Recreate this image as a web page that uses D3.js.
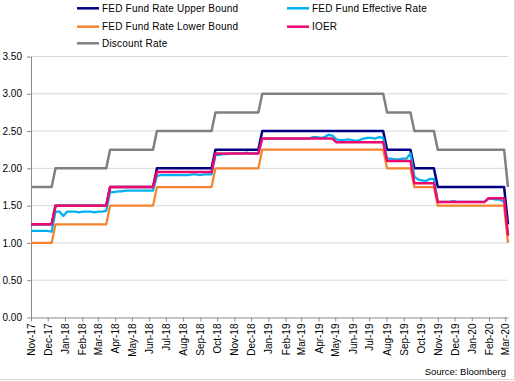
<!DOCTYPE html>
<html>
<head>
<meta charset="utf-8">
<script src="https://cdn.jsdelivr.net/npm/d3@7"></script>
<style>
  html, body { margin: 0; padding: 0; background: #fff; }
  svg { display: block; font-family: "Liberation Sans", Arial, sans-serif; }
</style>
</head>
<body>
<svg id="chart" width="515" height="381"></svg>
<script>
// ---------- data ----------
const yTicks = [0, 0.5, 1.0, 1.5, 2.0, 2.5, 3.0, 3.5];
const xStart = "2017-11-01";
const xEnd = "2020-03-06";
const sourceText = "Source: Bloomberg";

const upperBound = [
  ["2017-11-01",1.25],["2017-12-08",1.25],["2017-12-15",1.50],["2018-03-16",1.50],["2018-03-23",1.75],
  ["2018-06-08",1.75],["2018-06-15",2.00],["2018-09-21",2.00],["2018-09-28",2.25],["2018-12-14",2.25],
  ["2018-12-21",2.50],["2019-07-26",2.50],["2019-08-02",2.25],["2019-09-13",2.25],["2019-09-20",2.00],
  ["2019-10-25",2.00],["2019-11-01",1.75],["2020-02-28",1.75],["2020-03-06",1.25]
];
const lowerBound = [
  ["2017-11-01",1.00],["2017-12-08",1.00],["2017-12-15",1.25],["2018-03-16",1.25],["2018-03-23",1.50],
  ["2018-06-08",1.50],["2018-06-15",1.75],["2018-09-21",1.75],["2018-09-28",2.00],["2018-12-14",2.00],
  ["2018-12-21",2.25],["2019-07-26",2.25],["2019-08-02",2.00],["2019-09-13",2.00],["2019-09-20",1.75],
  ["2019-10-25",1.75],["2019-11-01",1.50],["2020-02-28",1.50],["2020-03-06",1.00]
];
const ioer = [
  ["2017-11-01",1.25],["2017-12-08",1.25],["2017-12-15",1.50],["2018-03-16",1.50],["2018-03-23",1.75],
  ["2018-06-08",1.75],["2018-06-15",1.95],["2018-09-21",1.95],["2018-09-28",2.20],["2018-12-14",2.20],
  ["2018-12-21",2.40],["2019-04-26",2.40],["2019-05-03",2.35],["2019-07-26",2.35],["2019-08-02",2.10],
  ["2019-09-13",2.10],["2019-09-20",1.80],["2019-10-25",1.80],["2019-11-01",1.55],["2020-01-24",1.55],
  ["2020-01-31",1.60],["2020-02-28",1.60],["2020-03-06",1.10]
];
const discountRate = [
  ["2017-11-01",1.75],["2017-12-08",1.75],["2017-12-15",2.00],["2018-03-16",2.00],["2018-03-23",2.25],
  ["2018-06-08",2.25],["2018-06-15",2.50],["2018-09-21",2.50],["2018-09-28",2.75],["2018-12-14",2.75],
  ["2018-12-21",3.00],["2019-07-26",3.00],["2019-08-02",2.75],["2019-09-13",2.75],["2019-09-20",2.50],
  ["2019-10-25",2.50],["2019-11-01",2.25],["2020-02-28",2.25],["2020-03-06",1.75]
];
const effectiveRate = [
  ["2017-11-01",1.16],["2017-11-10",1.16],["2017-11-17",1.16],["2017-11-24",1.16],["2017-12-01",1.16],
  ["2017-12-08",1.15],["2017-12-15",1.42],["2017-12-22",1.42],["2017-12-29",1.36],["2018-01-05",1.42],
  ["2018-01-12",1.42],["2018-01-19",1.42],["2018-01-26",1.41],["2018-02-02",1.42],["2018-02-09",1.42],
  ["2018-02-16",1.42],["2018-02-23",1.41],["2018-03-02",1.42],["2018-03-09",1.42],["2018-03-16",1.43],
  ["2018-03-23",1.68],["2018-03-30",1.68],["2018-04-06",1.69],["2018-04-13",1.69],["2018-04-20",1.70],
  ["2018-04-27",1.70],["2018-05-04",1.70],["2018-05-11",1.70],["2018-05-18",1.70],["2018-05-25",1.70],
  ["2018-06-01",1.70],["2018-06-08",1.70],["2018-06-15",1.90],["2018-06-22",1.91],["2018-06-29",1.91],
  ["2018-07-06",1.91],["2018-07-13",1.91],["2018-07-20",1.91],["2018-07-27",1.91],["2018-08-03",1.91],
  ["2018-08-10",1.91],["2018-08-17",1.92],["2018-08-24",1.92],["2018-08-31",1.91],["2018-09-07",1.92],
  ["2018-09-14",1.92],["2018-09-21",1.92],["2018-09-28",2.18],["2018-10-05",2.18],["2018-10-12",2.19],
  ["2018-10-19",2.19],["2018-10-26",2.20],["2018-11-02",2.20],["2018-11-09",2.20],["2018-11-16",2.20],
  ["2018-11-23",2.21],["2018-11-30",2.20],["2018-12-07",2.20],["2018-12-14",2.20],["2018-12-21",2.40],
  ["2018-12-28",2.40],["2019-01-04",2.40],["2019-01-11",2.40],["2019-01-18",2.40],["2019-01-25",2.40],
  ["2019-02-01",2.40],["2019-02-08",2.40],["2019-02-15",2.40],["2019-02-22",2.40],["2019-03-01",2.40],
  ["2019-03-08",2.40],["2019-03-15",2.40],["2019-03-22",2.42],["2019-03-29",2.42],["2019-04-05",2.41],
  ["2019-04-12",2.42],["2019-04-19",2.45],["2019-04-26",2.44],["2019-05-03",2.39],["2019-05-10",2.38],
  ["2019-05-17",2.38],["2019-05-24",2.39],["2019-05-31",2.38],["2019-06-07",2.37],["2019-06-14",2.38],
  ["2019-06-21",2.40],["2019-06-28",2.41],["2019-07-05",2.41],["2019-07-12",2.40],["2019-07-19",2.42],
  ["2019-07-26",2.41],["2019-08-02",2.13],["2019-08-09",2.13],["2019-08-16",2.12],["2019-08-23",2.12],
  ["2019-08-30",2.13],["2019-09-06",2.13],["2019-09-13",2.20],["2019-09-20",1.89],["2019-09-27",1.85],
  ["2019-10-04",1.84],["2019-10-11",1.83],["2019-10-18",1.86],["2019-10-25",1.86],["2019-11-01",1.55],
  ["2019-11-08",1.55],["2019-11-15",1.55],["2019-11-22",1.55],["2019-11-29",1.56],["2019-12-06",1.55],
  ["2019-12-13",1.55],["2019-12-20",1.55],["2019-12-27",1.55],["2020-01-03",1.55],["2020-01-10",1.55],
  ["2020-01-17",1.55],["2020-01-24",1.55],["2020-01-31",1.59],["2020-02-07",1.59],["2020-02-14",1.58],
  ["2020-02-21",1.58],["2020-02-28",1.55],["2020-03-06",1.09]
];

const seriesNames = ["FED Fund Rate Upper Bound","FED Fund Effective Rate","FED Fund Rate Lower Bound","IOER","Discount Rate"];
const seriesData = [upperBound, effectiveRate, lowerBound, ioer, discountRate];
const seriesColors = ["#000080","#00B0F0","#F5832D","#F0086E","#808080"];

// ---------- drawing ----------
const parse = d3.timeParse("%Y-%m-%d");
const svg = d3.select("#chart");
const W = 515, H = 381;
const plot = {left: 31, right: 508, top: 56.5, bottom: 317.5};

const x = d3.scaleTime().domain([parse(xStart), parse(xEnd)]).range([plot.left, plot.right]);
const y = d3.scaleLinear().domain([0, 3.5]).range([plot.bottom, plot.top]);

// outer border (right & bottom visible in reference)
svg.append("line").attr("x1", W - 0.5).attr("x2", W - 0.5).attr("y1", 0).attr("y2", H - 1.5)
  .attr("stroke", "#D9D9D9").attr("stroke-width", 1);
svg.append("line").attr("x1", 0).attr("x2", W - 0.5).attr("y1", H - 1.5).attr("y2", H - 1.5)
  .attr("stroke", "#D9D9D9").attr("stroke-width", 1);

// gridlines
svg.append("g").selectAll("line").data(yTicks.filter(d => d > 0)).join("line")
  .attr("x1", plot.left).attr("x2", plot.right)
  .attr("y1", d => y(d)).attr("y2", d => y(d))
  .attr("stroke", "#D9D9D9").attr("stroke-width", 1);

// y axis
const yAxis = svg.append("g").attr("transform", `translate(${plot.left},0)`)
  .call(d3.axisLeft(y).tickValues(yTicks).tickFormat(d3.format(".2f")).tickSize(4).tickSizeOuter(0).tickPadding(5));
yAxis.select(".domain").attr("stroke", "#898989");
yAxis.selectAll(".tick line").attr("stroke", "#898989");
yAxis.selectAll("text").attr("font-size", 10).attr("fill", "#000")
  .attr("font-family", "Liberation Sans, Arial, sans-serif");

// x axis
const monthTicks = d3.timeMonth.range(parse(xStart), d3.timeDay.offset(parse(xEnd), 1));
const xAxis = svg.append("g").attr("transform", `translate(0,${plot.bottom})`)
  .call(d3.axisBottom(x).tickValues(monthTicks).tickFormat(d3.timeFormat("%b-%y")).tickSize(4).tickSizeOuter(0));
xAxis.select(".domain").attr("stroke", "#898989");
xAxis.selectAll(".tick line").attr("stroke", "#898989");
xAxis.selectAll("text")
  .attr("font-size", 10).attr("fill", "#000")
  .attr("font-family", "Liberation Sans, Arial, sans-serif")
  .attr("transform", "rotate(-90)")
  .attr("text-anchor", "end")
  .attr("x", -6).attr("y", 0).attr("dy", "0.35em");

// series lines
const line = d3.line().x(d => x(parse(d[0]))).y(d => y(d[1]));
svg.append("g").selectAll("path").data(seriesData).join("path")
  .attr("d", d => line(d))
  .attr("fill", "none")
  .attr("stroke", (d, i) => seriesColors[i])
  .attr("stroke-width", (d, i) => (i === 1 || i === 2) ? 2.25 : 2.5)
  .attr("stroke-linejoin", "round");

// legend
const legendPos = [[77, 8.3], [287, 8.3], [77, 26.7], [287, 26.7], [77, 43.3]];
const legend = svg.append("g").selectAll("g").data(seriesNames).join("g")
  .attr("transform", (d, i) => `translate(${legendPos[i][0]},${legendPos[i][1]})`);
legend.append("line").attr("x1", 0).attr("x2", 22).attr("y1", 0).attr("y2", 0)
  .attr("stroke", (d, i) => seriesColors[i]).attr("stroke-width", 2.5);
legend.append("text").attr("x", 25).attr("dy", "0.35em")
  .attr("font-size", 10).attr("letter-spacing", "0.2px").attr("fill", "#000")
  .text(d => d);

// source
svg.append("text").attr("x", 506).attr("y", 375).attr("text-anchor", "end")
  .attr("font-size", 9.5).attr("fill", "#000").text(sourceText);
</script>
</body>
</html>
